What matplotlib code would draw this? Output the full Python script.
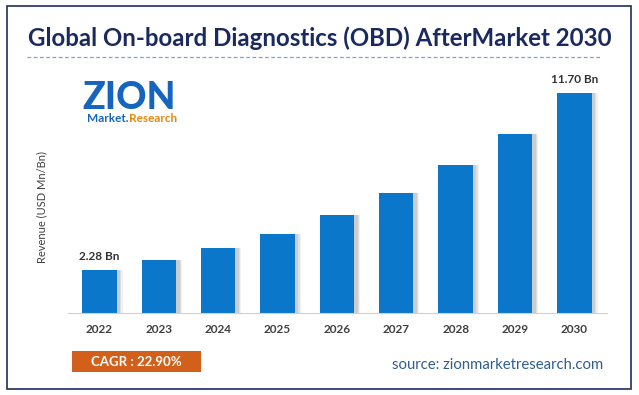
import numpy as np
import matplotlib.pyplot as plt
from matplotlib.patches import Rectangle

plt.rcParams['font.family'] = ['Lato', 'DejaVu Sans']

years = ['2022', '2023', '2024', '2025', '2026', '2027', '2028', '2029', '2030']
revenue = [2.28, 2.80, 3.44, 4.23, 5.20, 6.39, 7.85, 9.55, 11.70]
labels = {0: '2.28 Bn', 8: '11.70 Bn'}

W, H = 639, 395
fig = plt.figure(figsize=(W / 100, H / 100), dpi=100)
fig.patch.set_facecolor('white')

# border
fig.patches.append(Rectangle((7 / W, 6 / H), 624 / W, 383 / H, transform=fig.transFigure,
                             fill=False, edgecolor='#1F2D5A', linewidth=1.2))

fig.text(0.5, 1 - 38 / H, 'Global On-board Diagnostics (OBD) AfterMarket 2030',
         ha='center', va='center', fontsize=17.3, fontweight='bold', color='#1B2A5E')
fig.add_artist(plt.Line2D([27 / W, 600 / W], [1 - 57 / H, 1 - 57 / H], transform=fig.transFigure,
                          color='#7FA0D8', linewidth=0.9, linestyle=(0, (3, 2))))

# logo (approximation)
fig.text(129 / W, 1 - 98 / H, 'ZION', ha='center', va='center', fontsize=27,
         fontweight='black', color='#1565C0')
fig.text(129 / W, 1 - 119 / H, 'Market.', ha='right', va='center', fontsize=8.5,
         fontweight='bold', color='#1565C0')
fig.text(129 / W, 1 - 119 / H, 'Research', ha='left', va='center', fontsize=8.5,
         fontweight='bold', color='#E8860F')

ax = fig.add_axes([68 / W, 1 - 313 / H, 539 / W, 243 / H])
x = np.arange(len(years))

# soft shadow on the right of each bar
for off, a in [(0.10, 0.10), (0.08, 0.15), (0.06, 0.2)]:
    ax.bar(x + off, revenue, width=0.58, color='#7F7F7F', alpha=a, zorder=1)
ax.bar(x, revenue, width=0.58, color='#0A77CA', zorder=2)

for i, t in labels.items():
    ax.text(x[i], revenue[i] + 0.45, t, ha='center', va='bottom', fontsize=8.5,
            fontweight='bold', color='#333333')

ax.set_xlim(-0.53, 8.55)
ax.set_ylim(0, 12.93)
ax.set_xticks(x)
ax.set_xticklabels(years, fontsize=8.5, fontweight='bold', color='#404040')
ax.tick_params(axis='x', length=0, pad=8)
ax.set_yticks([])
for s in ['top', 'right', 'left']:
    ax.spines[s].set_visible(False)
ax.spines['bottom'].set_color('#D0D0D0')

fig.text(42 / W, 1 - 207 / H, 'Revenue (USD Mn/Bn)', rotation=90, ha='center', va='center',
         fontsize=8, color='#404040')

# CAGR box
fig.patches.append(Rectangle((72 / W, 1 - 372 / H), 129 / W, 21 / H, transform=fig.transFigure,
                             facecolor='#D2601A', edgecolor='none'))
fig.text(136.5 / W, 1 - 362 / H, 'CAGR : 22.90%', ha='center', va='center', fontsize=9.5,
         fontweight='bold', color='white')

fig.text(603 / W, 1 - 365 / H, 'source: zionmarketresearch.com', ha='right', va='center',
         fontsize=10.7, color='#2F5E8E')

fig.savefig('out.png', dpi=100)
